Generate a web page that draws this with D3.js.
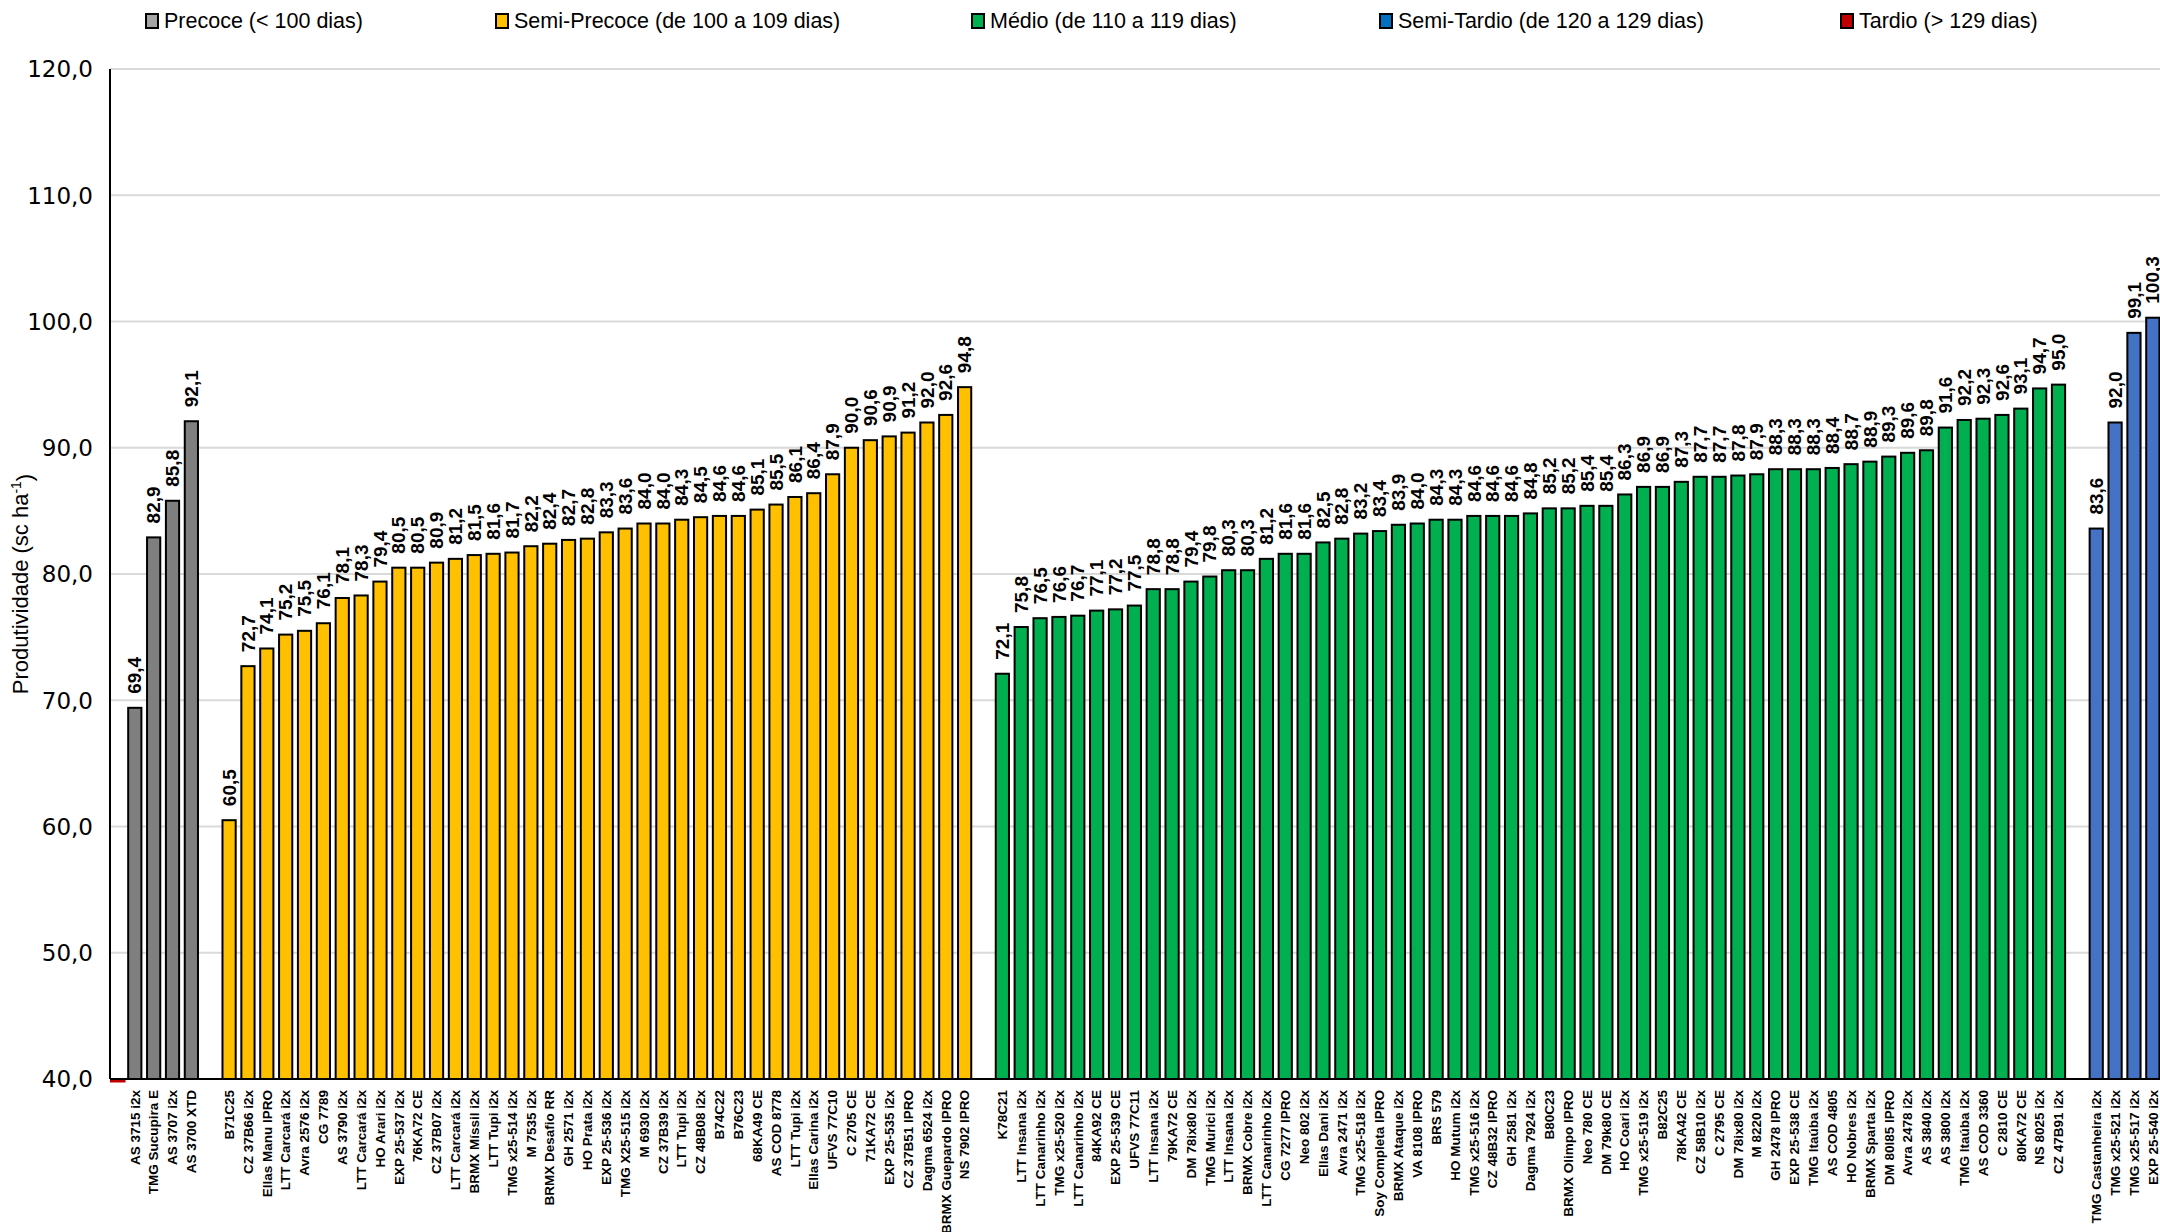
<!DOCTYPE html>
<html>
<head>
<meta charset="utf-8">
<script src="https://cdn.jsdelivr.net/npm/d3@7"></script>
<style>
  body { margin: 0; background: #fff; }
  text { font-family: "Liberation Sans", Arial, sans-serif; }
</style>
</head>
<body>
<svg id="chart"></svg>
<script>
// legend / groups
const groupLabels = ['Precoce (< 100 dias)', 'Semi-Precoce (de 100 a 109 dias)', 'Médio (de 110 a 119 dias)', 'Semi-Tardio (de 120 a 129 dias)', 'Tardio (> 129 dias)']
const groupColors = ['#7f7f7f', '#ffc000', '#00b050', '#4472c4', '#c00000']
const legendColors = ['#a5a5a5', '#ffc000', '#00b050', '#0070c0', '#c00000']
const legendX = [145, 495, 971, 1379, 1840]

const precoceNames = ['AS 3715 i2x', 'TMG Sucupira E', 'AS 3707 i2x', 'AS 3700 XTD']
const precoceValues = [69.4, 82.9, 85.8, 92.1]

const semiPrecoceNames = ['B71C25', 'CZ 37B66 i2x', 'Ellas Manu IPRO', 'LTT Carcará i2x', 'Avra 2576 i2x', 'CG 7789',
  'AS 3790 i2x', 'LTT Carcará i2x', 'HO Arari i2x', 'EXP 25-537 i2x', '76KA72 CE', 'CZ 37B07 i2x', 'LTT Carcará i2x',
  'BRMX Míssil i2x', 'LTT Tupi i2x', 'TMG x25-514 i2x', 'M 7535 i2x', 'BRMX Desafio RR', 'GH 2571 i2x', 'HO Prata i2x',
  'EXP 25-536 i2x', 'TMG X25-515 i2x', 'M 6930 i2x', 'CZ 37B39 i2x', 'LTT Tupi i2x', 'CZ 48B08 i2x', 'B74C22', 'B76C23',
  '68KA49 CE', 'AS COD 8778', 'LTT Tupi i2x', 'Ellas Carina i2x', 'UFVS 77C10', 'C 2705 CE', '71KA72 CE', 'EXP 25-535 i2x',
  'CZ 37B51 IPRO', 'Dagma 6524 i2x', 'BRMX Guepardo IPRO', 'NS 7902 IPRO']
const semiPrecoceValues = [60.5, 72.7, 74.1, 75.2, 75.5, 76.1, 78.1, 78.3, 79.4, 80.5, 80.5, 80.9, 81.2, 81.5, 81.6, 81.7,
  82.2, 82.4, 82.7, 82.8, 83.3, 83.6, 84.0, 84.0, 84.3, 84.5, 84.6, 84.6, 85.1, 85.5, 86.1, 86.4, 87.9, 90.0, 90.6, 90.9,
  91.2, 92.0, 92.6, 94.8]

const medioNames = ['K78C21', 'LTT Insana i2x', 'LTT Canarinho i2x', 'TMG x25-520 i2x', 'LTT Canarinho i2x', '84KA92 CE',
  'EXP 25-539 CE', 'UFVS 77C11', 'LTT Insana i2x', '79KA72 CE', 'DM 78ix80 i2x', 'TMG Murici i2x', 'LTT Insana i2x',
  'BRMX Cobre i2x', 'LTT Canarinho i2x', 'CG 7277 IPRO', 'Neo 802 i2x', 'Ellas Dani i2x', 'Avra 2471 i2x', 'TMG x25-518 i2x',
  'Soy Completa IPRO', 'BRMX Ataque i2x', 'VA 8108 IPRO', 'BRS 579', 'HO Mutum i2x', 'TMG x25-516 i2x', 'CZ 48B32 IPRO',
  'GH 2581 i2x', 'Dagma 7924 i2x', 'B80C23', 'BRMX Olimpo IPRO', 'Neo 780 CE', 'DM 79k80 CE', 'HO Coari i2x',
  'TMG x25-519 i2x', 'B82C25', '78KA42 CE', 'CZ 58B10 i2x', 'C 2795 CE', 'DM 78ix80 i2x', 'M 8220 i2x', 'GH 2478 IPRO',
  'EXP 25-538 CE', 'TMG Itaúba i2x', 'AS COD 4805', 'HO Nobres i2x', 'BRMX Sparta i2x', 'DM 80I85 IPRO', 'Avra 2478 i2x',
  'AS 3840 i2x', 'AS 3800 i2x', 'TMG Itaúba i2x', 'AS COD 3360', 'C 2810 CE', '80KA72 CE', 'NS 8025 i2x', 'CZ 47B91 i2x']
const medioValues = [72.1, 75.8, 76.5, 76.6, 76.7, 77.1, 77.2, 77.5, 78.8, 78.8, 79.4, 79.8, 80.3, 80.3, 81.2, 81.6, 81.6,
  82.5, 82.8, 83.2, 83.4, 83.9, 84.0, 84.3, 84.3, 84.6, 84.6, 84.6, 84.8, 85.2, 85.2, 85.4, 85.4, 86.3, 86.9, 86.9, 87.3,
  87.7, 87.7, 87.8, 87.9, 88.3, 88.3, 88.3, 88.4, 88.7, 88.9, 89.3, 89.6, 89.8, 91.6, 92.2, 92.3, 92.6, 93.1, 94.7, 95.0]

const semiTardioNames = ['TMG Castanheira i2x', 'TMG x25-521 i2x', 'TMG x25-517 i2x', 'EXP 25-540 i2x']
const semiTardioValues = [83.6, 92.0, 99.1, 100.3]

const yTicks = [40, 50, 60, 70, 80, 90, 100, 110, 120]

// one slot per category, empty slots between the groups
const slots = []
slots.push({ name: '', value: null, g: 4 }) // tardio: no bar
const addGroup = (names, values, g) => names.forEach((n, i) => slots.push({ name: n, value: values[i], g: g }))
addGroup(precoceNames, precoceValues, 0)
slots.push({ name: '', value: null, g: -1 })
addGroup(semiPrecoceNames, semiPrecoceValues, 1)
slots.push({ name: '', value: null, g: -1 })
addGroup(medioNames, medioValues, 2)
slots.push({ name: '', value: null, g: -1 })
addGroup(semiTardioNames, semiTardioValues, 3)

const W = 2160, H = 1232
const margin = { top: 69, left: 110, bottom: 153 }
const step = 18.86
const bandStart = 106.5
const plotBottom = H - margin.bottom

const svg = d3.select('#chart').attr('width', W).attr('height', H)
svg.append('rect').attr('width', W).attr('height', H).attr('fill', '#fff')

const x = d3.scaleBand()
  .domain(d3.range(slots.length))
  .range([bandStart, bandStart + step * slots.length])
  .paddingInner(0.3)
  .paddingOuter(0.15)

const y = d3.scaleLinear()
  .domain([40, 120])
  .range([plotBottom, margin.top])

const fmt = v => d3.format('.1f')(v).replace('.', ',')

// grid
svg.append('g')
  .selectAll('line')
  .data(yTicks.slice(1))
  .join('line')
  .attr('x1', margin.left).attr('x2', W)
  .attr('y1', d => y(d)).attr('y2', d => y(d))
  .attr('stroke', '#d9d9d9').attr('stroke-width', 2)

// y axis labels
svg.append('g')
  .selectAll('text')
  .data(yTicks)
  .join('text')
  .attr('x', margin.left - 17)
  .attr('y', d => y(d))
  .attr('dy', '0.36em')
  .attr('text-anchor', 'end')
  .style('font-family', '"DejaVu Sans", sans-serif')
  .style('font-size', '23px')
  .attr('fill', '#000')
  .text(fmt)

// bars
const barData = slots.map((d, i) => ({ ...d, i })).filter(d => d.value != null)
svg.append('g')
  .selectAll('rect')
  .data(barData)
  .join('rect')
  .attr('x', d => x(d.i))
  .attr('y', d => y(d.value))
  .attr('width', x.bandwidth())
  .attr('height', d => y(40) - y(d.value))
  .attr('fill', d => groupColors[d.g])
  .attr('stroke', '#000')
  .attr('stroke-width', 2)

// empty tardio series shows only as a red edge on the axis
svg.append('g')
  .selectAll('line')
  .data(slots.map((d, i) => ({ ...d, i })).filter(d => d.g === 4))
  .join('line')
  .attr('x1', margin.left)
  .attr('x2', d => x(d.i) + x.bandwidth() + 3)
  .attr('y1', y(40) + 2).attr('y2', y(40) + 2)
  .attr('stroke', groupColors[4]).attr('stroke-width', 3)

// axes lines
svg.append('line')
  .attr('x1', margin.left).attr('x2', margin.left)
  .attr('y1', margin.top).attr('y2', plotBottom)
  .attr('stroke', '#000').attr('stroke-width', 2)
svg.append('line')
  .attr('x1', margin.left).attr('x2', W)
  .attr('y1', plotBottom).attr('y2', plotBottom)
  .attr('stroke', '#000').attr('stroke-width', 2)

// value labels
svg.append('g')
  .selectAll('text')
  .data(barData)
  .join('text')
  .attr('transform', d => 'translate(' + (x(d.i) + x.bandwidth() / 2) + ',' + (y(d.value) - 14) + ') rotate(-90)')
  .attr('dy', '0.35em')
  .attr('text-anchor', 'start')
  .style('font-size', '19px')
  .style('font-weight', 'bold')
  .attr('fill', '#000')
  .text(d => fmt(d.value))

// category labels
svg.append('g')
  .selectAll('text')
  .data(barData)
  .join('text')
  .attr('transform', d => 'translate(' + (x(d.i) + x.bandwidth() / 2) + ',' + (plotBottom + 11) + ') rotate(-90)')
  .attr('dy', '0.35em')
  .attr('text-anchor', 'end')
  .style('font-size', '13.5px')
  .style('font-weight', 'bold')
  .attr('fill', '#000')
  .text(d => d.name)

// y title
const yt = svg.append('text')
  .attr('transform', 'translate(28,' + ((margin.top + plotBottom) / 2 + 10) + ') rotate(-90)')
  .attr('text-anchor', 'middle')
  .style('font-size', '22px')
  .attr('fill', '#000')
yt.append('tspan').text('Produtividade (sc ha')
yt.append('tspan').attr('dy', '-0.5em').style('font-size', '14px').text('-1')
yt.append('tspan').attr('dy', '0.5em').text(')')

// legend
const legend = svg.append('g')
groupLabels.forEach((label, i) => {
  const item = legend.append('g').attr('transform', 'translate(' + legendX[i] + ',0)')
  item.append('rect')
    .attr('x', 1).attr('y', 14).attr('width', 12).attr('height', 14)
    .attr('fill', legendColors[i]).attr('stroke', '#000').attr('stroke-width', 2)
  item.append('text')
    .attr('x', 19).attr('y', 28)
    .style('font-size', '21.5px')
    .attr('fill', '#000')
    .text(label)
})
</script>
</body>
</html>
